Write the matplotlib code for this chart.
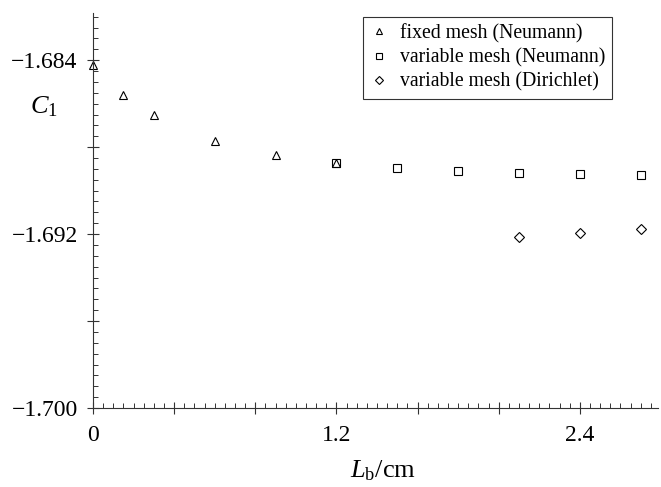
import matplotlib
matplotlib.use("Agg")
import matplotlib.pyplot as plt
from matplotlib.ticker import MultipleLocator, FuncFormatter

# Data
x_fixed = [0.0, 0.15, 0.3, 0.6, 0.9, 1.2]
y_fixed = [-1.6842, -1.68561, -1.68653, -1.68771, -1.68837, -1.68875]

x_var_neu = [1.2, 1.5, 1.8, 2.1, 2.4, 2.7]
y_var_neu = [-1.68875, -1.68895, -1.68910, -1.68921, -1.68924, -1.68930]

x_var_dir = [2.1, 2.4, 2.7]
y_var_dir = [-1.69212, -1.69194, -1.69178]

labels = ["fixed mesh (Neumann)", "variable mesh (Neumann)", "variable mesh (Dirichlet)"]
xtick_vals = [0.0, 1.2, 2.4]
xtick_labels = ["0", "1.2", "2.4"]
ytick_vals = [-1.684, -1.692, -1.700]
ytick_labels = ["\u22121.684", "\u22121.692", "\u22121.700"]

plt.rcParams['font.family'] = ['Liberation Serif', 'DejaVu Serif']
plt.rcParams['mathtext.fontset'] = 'custom'
plt.rcParams['mathtext.it'] = 'Liberation Serif:italic'
plt.rcParams['mathtext.rm'] = 'Liberation Serif'

fig = plt.figure(figsize=(6.61, 4.87), dpi=100)
ax = fig.add_axes([93/661, 1 - 408/487, (658 - 93)/661, (408 - 13)/487])

mk = dict(linestyle='none', mfc='none', mec='black', mew=0.8, clip_on=False)
ax.plot(x_fixed, y_fixed, marker='^', ms=6, label=labels[0], **mk)
ax.plot(x_var_neu, y_var_neu, marker='s', ms=6.2, label=labels[1], **mk)
ax.plot(x_var_dir, y_var_dir, marker='D', ms=4.6, label=labels[2], **mk)

ax.set_xlim(0, 2.785)
ax.set_ylim(-1.700, -1.68183)

for s in ['top', 'right']:
    ax.spines[s].set_visible(False)
for s in ['left', 'bottom']:
    ax.spines[s].set_linewidth(0.8)
    ax.spines[s].set_color('#333333')

def xfmt(v, pos):
    for tv, tl in zip(xtick_vals, xtick_labels):
        if abs(v - tv) < 1e-6:
            return tl
    return ""

def yfmt(v, pos):
    for tv, tl in zip(ytick_vals, ytick_labels):
        if abs(v - tv) < 1e-7:
            return tl
    return ""

ax.xaxis.set_major_locator(MultipleLocator(0.4))
ax.xaxis.set_minor_locator(MultipleLocator(0.05))
ax.xaxis.set_major_formatter(FuncFormatter(xfmt))
ax.yaxis.set_major_locator(MultipleLocator(0.004))
ax.yaxis.set_minor_locator(MultipleLocator(0.0005))
ax.yaxis.set_major_formatter(FuncFormatter(yfmt))

ax.tick_params(which='major', direction='inout', length=8, width=0.8, labelsize=17, color='#333333')
ax.tick_params(axis='y', which='major', pad=7)
ax.tick_params(axis='x', which='major', pad=8)
ax.tick_params(which='minor', direction='in', length=3.5, width=0.7, color='#333333')

leg = ax.legend(loc='upper right', bbox_to_anchor=((612 - 93)/565, (408 - 17)/395),
                fontsize=14.2, frameon=True, fancybox=False, handlelength=0.9,
                handletextpad=0.6, borderpad=0.35, labelspacing=0.25, markerscale=0.8,
                borderaxespad=0)
leg.get_frame().set_edgecolor('black')
leg.get_frame().set_linewidth(0.8)

fig.text(30/661, 1 - 107/487, r"$C_1$", fontsize=19, ha='left', va='center')
fig.text(383/661, 1 - 471/487, r"$L_{\mathrm{b}}$/cm", fontsize=19, ha='center', va='center')

fig.savefig("out.png", dpi=100)
